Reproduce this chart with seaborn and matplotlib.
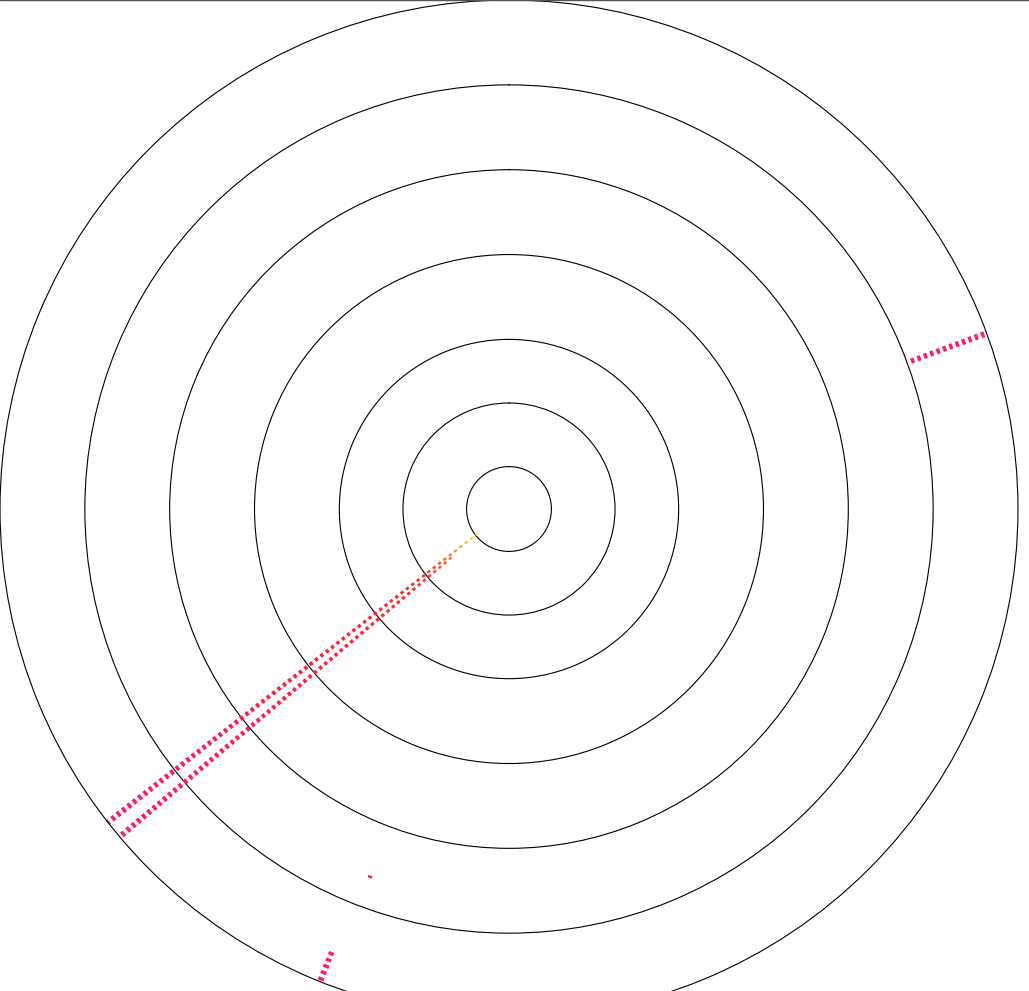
import numpy as np
import seaborn as sns
import matplotlib.pyplot as plt
from matplotlib.collections import LineCollection
from matplotlib.colors import LinearSegmentedColormap
from matplotlib.lines import Line2D

# Data: radial rays (compass bearing in degrees, start radius, end radius)
ray_angles = [232.0, 229.9, 69.8, 201.8]
ray_starts = [0.92, 1.77, 10.1, 11.25]
ray_ends = [12.0, 12.0, 12.0, 12.0]

# small tangential tick
tick_theta = [200.4, 201.0]
tick_r = [9.27, 9.27]

r_max = 12
r_grid = [1, 2.5, 4, 6, 8, 10]

sns.set_theme(style='white')

cmap = LinearSegmentedColormap.from_list(
    'heat', [(0.0, '#ffec70'), (0.08, '#ffe050'), (0.12, '#ffa040'),
             (0.17, '#ff5a30'), (0.24, '#ff2a2a'), (0.5, '#ff1f40'),
             (0.75, '#ff1a58'), (1.0, '#ff1a70')])

fig = plt.figure(figsize=(10.29, 9.91), dpi=100)
ax = fig.add_axes([0.0, -0.02725, 0.9893, 1.0272], projection='polar')
ax.set_theta_zero_location('N')
ax.set_theta_direction(-1)
ax.set_ylim(0, r_max)
ax.set_rticks(r_grid)
ax.set_yticklabels([])
ax.set_xticks([])
ax.tick_params(length=0)
ax.yaxis.grid(True, color='black', linewidth=0.8)
ax.xaxis.grid(False)
ax.spines['polar'].set_color('black')
ax.spines['polar'].set_linewidth(0.8)
ax.set_facecolor('white')

period = 0.16
for ang, r0, r1 in zip(ray_angles, ray_starts, ray_ends):
    th = np.deg2rad(ang)
    starts = np.arange(r0, r1, period)
    segs, cols, lws = [], [], []
    for s in starts:
        e = min(s + period * 0.5, r1)
        segs.append([(th, s), (th, e)])
        frac = (s + e) / 2 / r_max
        cols.append(cmap(frac))
        lws.append(1.3 + 3.0 * frac)
    lc = LineCollection(segs, colors=cols, linewidths=lws, capstyle='butt')
    ax.add_collection(lc)

ax.plot(np.deg2rad(tick_theta), tick_r, color=cmap(tick_r[0] / r_max),
        linewidth=1.8, solid_capstyle='butt')

fig.add_artist(Line2D([0, 1], [0.9995, 0.9995], color='#555555', linewidth=1.0))

fig.savefig('out.png', dpi=100)
